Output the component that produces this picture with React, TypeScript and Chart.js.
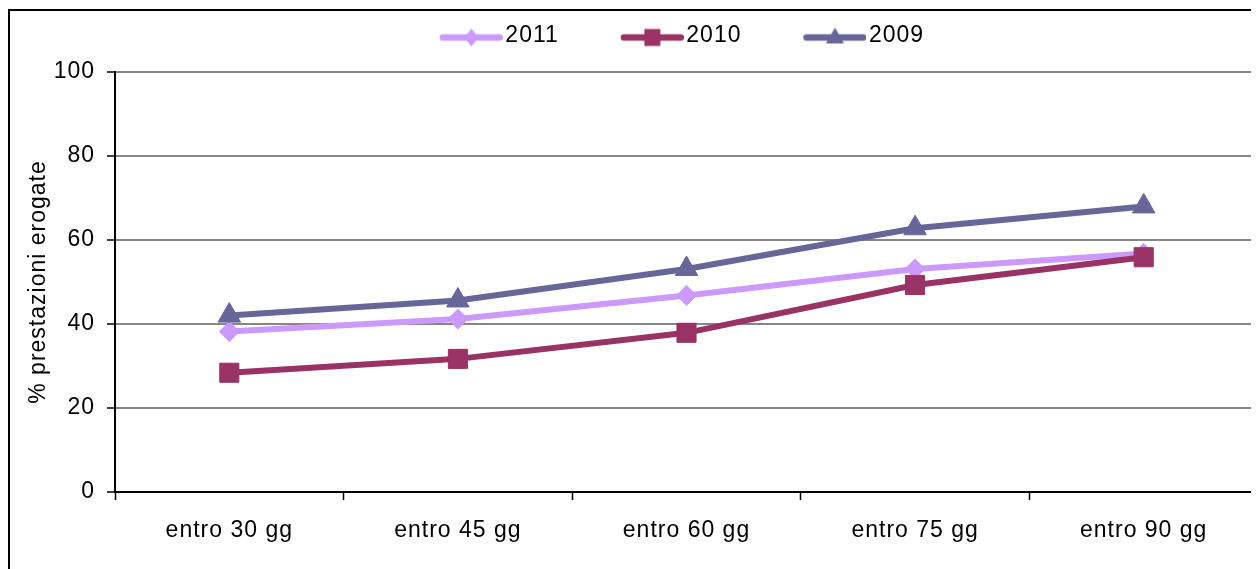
import React, { useEffect, useRef } from "react";
import { Chart, registerables } from "chart.js";

Chart.register(...registerables);

// Categories and series (% prestazioni erogate)
const categories = ["entro 30 gg", "entro 45 gg", "entro 60 gg", "entro 75 gg", "entro 90 gg"];
const values2011 = [38.2, 41.2, 46.8, 53.1, 56.8];
const values2010 = [28.4, 31.7, 37.9, 49.3, 55.9];
const values2009 = [42.0, 45.6, 53.1, 62.8, 68.0];
const seriesLabels = ["2011", "2010", "2009"];
const yTicks = [0, 20, 40, 60, 80, 100];

const COLORS = ["#CC99FF", "#993366", "#666699"];
const STYLES = ["rectRot", "rect", "triangle"] as const;
const FONT = { family: "'Liberation Sans', Arial, sans-serif", size: 23 };
const LEGEND_BOX = 106;

// Legend icon: a short line with the series marker, right-aligned in the box
function makeLegendIcon(color: string, style: string): HTMLCanvasElement {
  const w = LEGEND_BOX + 18;
  const h = 30;
  const c = document.createElement("canvas");
  c.width = w;
  c.height = h;
  const g = c.getContext("2d")!;
  const cy = 17;
  const x1 = w - 63;
  const x2 = w;
  g.strokeStyle = color;
  g.lineWidth = 6.5;
  g.lineCap = "round";
  g.beginPath();
  g.moveTo(x1 + 3, cy);
  g.lineTo(x2 - 3, cy);
  g.stroke();
  const cx = (x1 + x2) / 2;
  g.fillStyle = color;
  g.beginPath();
  if (style === "rectRot") {
    g.moveTo(cx, cy - 9);
    g.lineTo(cx + 7, cy);
    g.lineTo(cx, cy + 9);
    g.lineTo(cx - 7, cy);
  } else if (style === "rect") {
    g.rect(cx - 8, cy - 8.5, 16, 17);
  } else {
    g.moveTo(cx, cy - 10);
    g.lineTo(cx + 9, cy + 6);
    g.lineTo(cx - 9, cy + 6);
  }
  g.closePath();
  g.fill();
  return c;
}

// Slightly wider text spacing, applied to every label drawn on the canvas
const letterSpacingPlugin = {
  id: "letterSpacing",
  beforeLayout(chart: any) {
    chart.ctx.letterSpacing = "1px";
  },
  beforeDraw(chart: any) {
    chart.ctx.letterSpacing = "1px";
  },
};

export default function App() {
  const canvasRef = useRef<HTMLCanvasElement | null>(null);

  useEffect(() => {
    if (!canvasRef.current) return;
    const icons = COLORS.map((c, i) => makeLegendIcon(c, STYLES[i]));
    const seriesValues = [values2011, values2010, values2009];
    const radii = [10, 13.5, 13];
    const orders = [2, 1, 0];

    const chart = new Chart(canvasRef.current, {
      type: "line",
      data: {
        labels: categories,
        datasets: seriesLabels.map((label, i) => ({
          label,
          data: seriesValues[i],
          borderColor: COLORS[i],
          backgroundColor: COLORS[i],
          pointBackgroundColor: COLORS[i],
          pointBorderColor: COLORS[i],
          pointBorderWidth: 1,
          pointStyle: STYLES[i],
          pointRadius: radii[i],
          borderWidth: 6,
          tension: 0,
          fill: false,
          order: orders[i],
        })),
      },
      options: {
        responsive: false,
        maintainAspectRatio: false,
        animation: false,
        events: [],
        layout: { padding: { left: 8, top: 3, right: 0, bottom: 68.6 } },
        plugins: {
          tooltip: { enabled: false },
          legend: {
            position: "top",
            labels: {
              usePointStyle: true,
              pointStyleWidth: LEGEND_BOX,
              boxWidth: LEGEND_BOX,
              padding: 10,
              color: "#000",
              font: FONT,
              sort: (a: any, b: any) => a.datasetIndex - b.datasetIndex,
              generateLabels: (ch: any) =>
                (Chart.defaults.plugins.legend.labels as any)
                  .generateLabels(ch)
                  .map((item: any) => ({ ...item, pointStyle: icons[item.datasetIndex] })),
            },
          },
          // blank spacer below the legend
          title: {
            display: true,
            text: " ",
            position: "top",
            weight: 500,
            font: { size: 10 },
            padding: { top: 0, bottom: 3 },
          },
          // blank spacer to the right of the plot
          subtitle: {
            display: true,
            text: " ",
            position: "right",
            font: { size: 10 },
            padding: { top: 24, bottom: 0 },
          },
        },
        scales: {
          x: {
            offset: true,
            afterFit: (scale: any) => {
              scale.height = 50.4;
            },
            grid: {
              display: true,
              drawOnChartArea: false,
              drawTicks: true,
              tickLength: 8,
              tickColor: "#000",
              tickWidth: 1.5,
              offset: true,
            },
            border: { display: true, color: "#000", width: 2 },
            ticks: { color: "#000", font: FONT, padding: 17, maxRotation: 0, autoSkip: false },
          },
          y: {
            min: 0,
            max: 100,
            afterBuildTicks: (scale: any) => {
              scale.ticks = yTicks.map((v) => ({ value: v }));
            },
            afterFit: (scale: any) => {
              scale.width = 97;
            },
            ticks: { color: "#000", font: FONT, padding: 12 },
            grid: {
              color: (ctx: any) => (ctx.tick && ctx.tick.value === 0 ? "#000" : "#868686"),
              lineWidth: 2,
              tickLength: 8,
              tickColor: "#000",
              tickWidth: 1.5,
            },
            border: { color: "#000", width: 2 },
            title: {
              display: true,
              text: "% prestazioni erogate",
              color: "#000",
              font: FONT,
              padding: { top: 7, bottom: 2 },
            },
          },
        },
      },
      plugins: [letterSpacingPlugin],
    });

    return () => chart.destroy();
  }, []);

  return (
    <div style={{ width: 1251, height: 561, overflow: "hidden" }}>
      <div
        style={{
          marginTop: 1,
          border: "2px solid #000",
          width: 1284,
          height: 600,
          background: "#fff",
        }}
      >
        <canvas ref={canvasRef} width={1284} height={600} style={{ display: "block" }} />
      </div>
    </div>
  );
}
